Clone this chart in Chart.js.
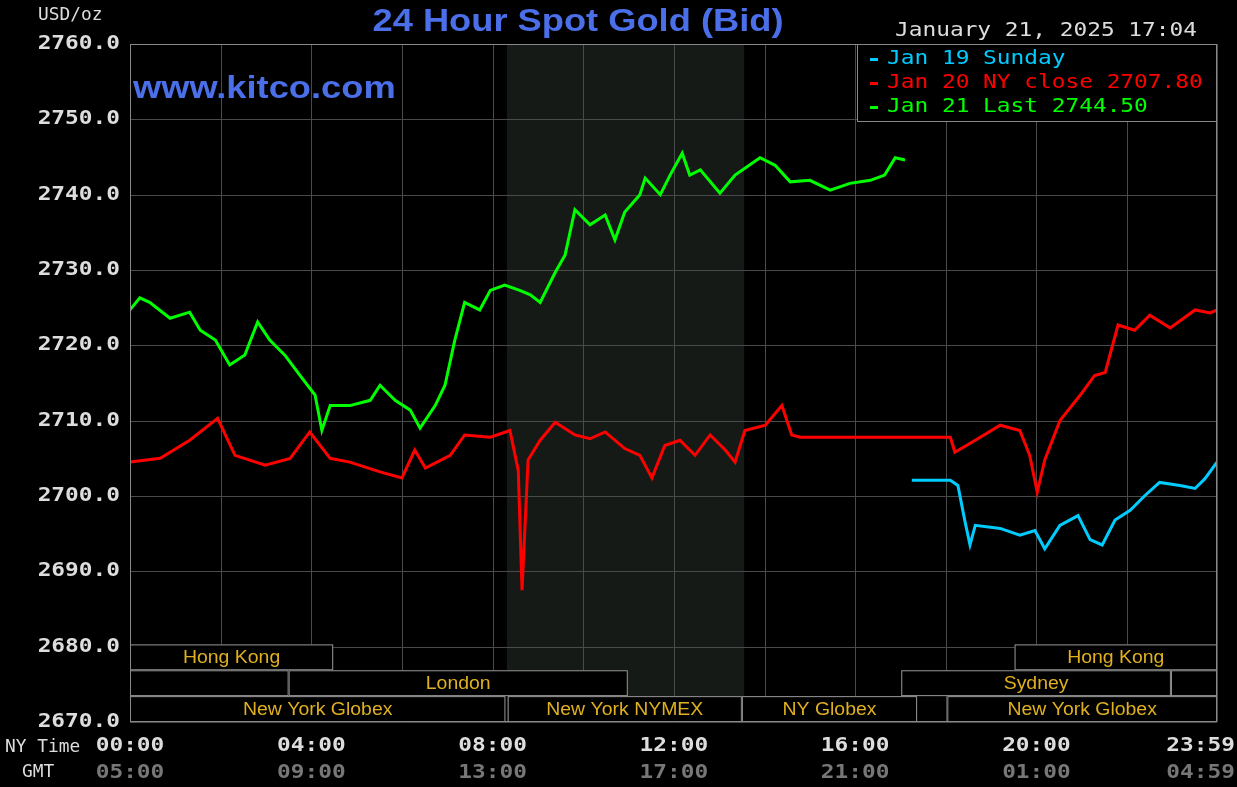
<!DOCTYPE html>
<html><head><meta charset="utf-8">
<script src="https://cdn.jsdelivr.net/npm/chart.js@4"></script>
<style>html,body{margin:0;padding:0;background:#000;}canvas{display:block;}</style>
</head><body>
<canvas id="c" width="1237" height="787"></canvas>
<script>
// minutes after NY midnight
const greenT=[0,13,26,53,79,93,113,132,152,169,185,205,225,245,254,265,291,318,331,351,371,384,404,417,430,443,463,477,496,516,530,543,563,576,589,609,629,642,655,675,682,702,715,731,741,755,781,801,834,854,874,900,927,953,980,999,1013,1026];
const greenV=[2724.7,2726.3,2725.7,2723.6,2724.4,2722,2720.7,2717.4,2718.7,2723.1,2720.7,2718.7,2716,2713.4,2708.7,2712,2712,2712.7,2714.7,2712.7,2711.4,2709,2712,2714.7,2720.7,2725.7,2724.7,2727.3,2728,2727.3,2726.7,2725.7,2729.7,2732,2738,2736,2737.3,2734,2737.7,2740,2742.2,2740,2742.6,2745.5,2742.6,2743.3,2740.2,2742.6,2744.9,2743.9,2741.7,2741.9,2740.6,2741.5,2741.9,2742.6,2744.9,2744.6];
const redT=[0,40,79,116,139,179,212,238,265,291,331,360,377,391,424,443,477,503,514,519,527,543,563,589,609,629,655,675,691,708,728,748,768,788,801,814,841,863,876,887,1086,1092,1119,1152,1178,1191,1201,1211,1231,1258,1277,1291,1308,1330,1350,1377,1410,1430,1439];
const redV=[2704.5,2705,2707.4,2710.3,2705.4,2704.1,2705,2708.5,2705,2704.5,2703.2,2702.4,2706.1,2703.7,2705.4,2708.1,2707.8,2708.7,2703.4,2687.5,2704.8,2707.4,2709.8,2708.1,2707.6,2708.5,2706.3,2705.4,2702.4,2706.7,2707.4,2705.4,2708.1,2706.1,2704.5,2708.7,2709.4,2712,2708.1,2707.8,2707.8,2705.8,2707.4,2709.4,2708.7,2705.4,2700.5,2704.8,2710,2713.4,2716,2716.4,2722.7,2722,2724,2722.3,2724.7,2724.3,2724.7];
const blueT=[1035,1086,1096,1105,1112,1119,1152,1178,1198,1211,1231,1255,1271,1287,1304,1324,1344,1363,1390,1410,1423,1439];
const blueV=[2702.1,2702.1,2701.4,2696.8,2693.5,2696.1,2695.7,2694.8,2695.4,2693,2696.1,2697.4,2694.2,2693.5,2696.8,2698.1,2700.1,2701.8,2701.4,2701,2702.3,2704.5];
const yTicks=[2670,2680,2690,2700,2710,2720,2730,2740,2750,2760];
const nyLabels=["00:00","04:00","08:00","12:00","16:00","20:00","23:59"];
const gmtLabels=["05:00","09:00","13:00","17:00","21:00","01:00","04:59"];
const labelT=[0,240,480,720,960,1200,1439];
const legendLabels=["Jan 19 Sunday","Jan 20 NY close 2707.80","Jan 21 Last 2744.50"];
const legendColors=["#00ccff","#ff0000","#00ff00"];
// sessions: [row, start, end, label]
const sessions=[[0,0,269,"Hong Kong"],[0,1171,1439,"Hong Kong"],[1,0,210,""],[1,210,659,"London"],[1,1021,1378,"Sydney"],[1,1378,1439,""],[2,0,497,"New York Globex"],[2,500,810,"New York NYMEX"],[2,810,1042,"NY Globex"],[2,1082,1439,"New York Globex"]];
const pts=(t,v)=>t.map((x,i)=>({x:x,y:v[i]}));
const mono='"DejaVu Sans Mono", monospace';
function txt(c,s,x,y,align,sx){c.save();c.translate(x,y);c.scale(sx,1);c.textAlign=align;c.fillText(s,0,0);c.restore();}
const deco={id:'deco',
 beforeDatasetsDraw(ch){const c=ch.ctx,x=ch.scales.x,y=ch.scales.y,a=ch.chartArea;
  c.save();c.fillStyle='#161a16';c.fillRect(x.getPixelForValue(499),a.top,x.getPixelForValue(813)-x.getPixelForValue(499),a.bottom-a.top);
  c.strokeStyle='#4a4a4a';c.lineWidth=1;
  yTicks.forEach(v=>{const p=Math.round(y.getPixelForValue(v))+.5;c.beginPath();c.moveTo(a.left,p);c.lineTo(a.right,p);c.stroke();});
  for(let m=0;m<=1440;m+=120){const p=Math.round(x.getPixelForValue(Math.min(m,1439)))+.5;c.beginPath();c.moveTo(p,a.top);c.lineTo(p,a.bottom);c.stroke();}
  const rowH=(a.bottom-y.getPixelForValue(2680.3))/3;
  c.font='18px "Liberation Sans", sans-serif';c.textBaseline='middle';
  sessions.forEach(s=>{const x0=x.getPixelForValue(s[1]),x1=x.getPixelForValue(s[2]);const y0=a.bottom-(3-s[0])*rowH;
   c.fillStyle='#000';c.fillRect(x0,y0,x1-x0,rowH);c.strokeStyle='#999';c.strokeRect(x0+.5,y0+.5,x1-x0-1,rowH-1);
   c.fillStyle='#e0b020';txt(c,s[3],(x0+x1)/2,y0+rowH/2+1,'center',1.08);});
  c.restore();},
 afterDraw(ch){const c=ch.ctx,x=ch.scales.x,y=ch.scales.y,a=ch.chartArea;c.save();
  c.strokeStyle='#888';c.strokeRect(a.left+.5,a.top+.5,a.right-a.left-1,a.bottom-a.top-1);
  c.font='bold 19px '+mono;c.fillStyle='#ddd';c.textBaseline='middle';
  yTicks.forEach(v=>txt(c,v.toFixed(1),120,y.getPixelForValue(v),'right',1.2));
  labelT.forEach((t,i)=>{let p=x.getPixelForValue(t),al='center';if(i==labelT.length-1){p=1235;al='right';}
   c.fillStyle='#ddd';txt(c,nyLabels[i],p,746,al,1.2);c.fillStyle='#777';txt(c,gmtLabels[i],p,773,al,1.2);});
  c.font='17px '+mono;c.fillStyle='#ddd';txt(c,'NY Time',5,748,'left',1.05);txt(c,'GMT',22,773,'left',1.05);
  txt(c,'USD/oz',38,16,'left',1.05);
  c.font='19px '+mono;txt(c,'January 21, 2025 17:04',895,31,'left',1.2);
  c.font='bold 31px "Liberation Sans", sans-serif';c.fillStyle='#4a6fe8';txt(c,'24 Hour Spot Gold (Bid)',578,22,'center',1.17);
  txt(c,'www.kitco.com',133,89,'left',1.17);
  c.fillStyle='#000';c.fillRect(857,44,360,78);c.strokeStyle='#888';c.strokeRect(857.5,44.5,359,77);
  c.font='19px '+mono;
  legendLabels.forEach((l,i)=>{c.fillStyle=legendColors[i];c.fillRect(870,58+i*24,8,3);txt(c,l,887,59+i*24,'left',1.2);});
  c.restore();}};
new Chart(document.getElementById('c'),{type:'line',
 data:{datasets:[
  {data:pts(greenT,greenV),borderColor:'#00ff00',borderWidth:3,pointRadius:0,tension:0},
  {data:pts(redT,redV),borderColor:'#ff0000',borderWidth:3,pointRadius:0,tension:0},
  {data:pts(blueT,blueV),borderColor:'#00ccff',borderWidth:3,pointRadius:0,tension:0}]},
 options:{responsive:false,animation:false,
  layout:{padding:{left:130,right:20,top:44,bottom:65}},
  plugins:{legend:{display:false},tooltip:{enabled:false}},
  scales:{x:{type:'linear',min:0,max:1439,display:false},y:{min:2670,max:2760,display:false}}},
 plugins:[deco]});
</script></body></html>
